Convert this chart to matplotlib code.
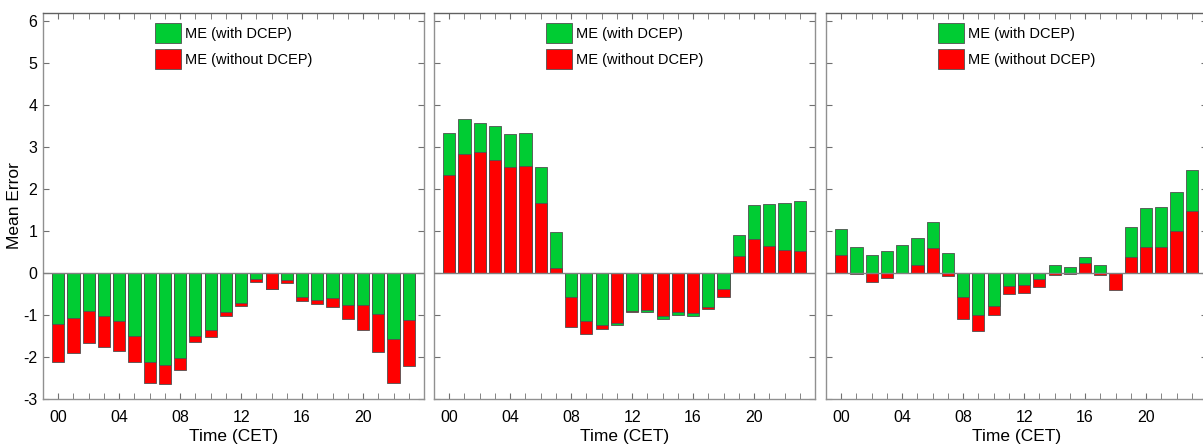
import numpy as np
import matplotlib
matplotlib.use('Agg')
import matplotlib.pyplot as plt
from matplotlib.patches import Patch
from matplotlib.ticker import MultipleLocator, FixedLocator

plt.rcParams['font.family'] = ['Liberation Sans', 'DejaVu Sans']
plt.rcParams['axes.unicode_minus'] = False

hours = np.arange(24)
hour_labels = ['00', '04', '08', '12', '16', '20']

# panel 1
me_with_1 = [-1.22, -1.08, -0.91, -1.02, -1.14, -1.50, -2.13, -2.20, -2.02, -1.50, -1.36, -0.94,
             -0.71, -0.15, -0.37, -0.17, -0.56, -0.64, -0.60, -0.77, -0.77, -0.98, -1.56, -1.13]
me_without_1 = [-2.13, -1.90, -1.66, -1.77, -1.85, -2.13, -2.63, -2.64, -2.31, -1.64, -1.53, -1.02,
                -0.79, -0.21, -0.37, -0.23, -0.66, -0.74, -0.80, -1.09, -1.36, -1.88, -2.61, -2.21]

# panel 2
me_with_2 = [3.34, 3.67, 3.58, 3.51, 3.30, 3.34, 2.53, 0.98, -0.58, -1.15, -1.25, -1.24,
             -0.91, -0.94, -1.09, -0.99, -1.02, -0.82, -0.37, 0.91, 1.63, 1.64, 1.67, 1.71]
me_without_2 = [2.33, 2.83, 2.87, 2.69, 2.53, 2.55, 1.66, 0.11, -1.28, -1.45, -1.33, -1.18,
                -0.92, -0.88, -1.02, -0.93, -0.96, -0.86, -0.56, 0.40, 0.82, 0.65, 0.55, 0.52]

# panel 3
me_with_3 = [1.05, 0.62, 0.44, 0.52, 0.66, 0.83, 1.21, 0.47, -0.58, -1.01, -0.79, -0.31,
             -0.28, -0.14, 0.19, 0.15, 0.37, 0.18, 0.00, 1.10, 1.54, 1.57, 1.94, 2.45]
me_without_3 = [0.42, -0.03, -0.21, -0.13, 0.00, 0.19, 0.59, -0.06, -1.10, -1.37, -1.01, -0.49,
                -0.48, -0.33, -0.05, -0.03, 0.23, -0.05, -0.40, 0.37, 0.63, 0.63, 0.99, 1.47]

panels = [(me_with_1, me_without_1), (me_with_2, me_without_2), (me_with_3, me_without_3)]

GREEN = '#00cc33'
RED = '#ff0000'
EDGE = '#505050'

W, H = 1203, 448
fig = plt.figure(figsize=(W / 100, H / 100), dpi=100)
lefts = [43, 434, 826]
ax_w, bot, top = 381, 399, 13

for i, (g, r) in enumerate(panels):
    ax = fig.add_axes([lefts[i] / W, (H - bot) / H, ax_w / W, (bot - top) / H])
    g = np.array(g)
    r = np.array(r)
    gb = ax.bar(hours, g, width=0.8, color=GREEN, edgecolor=EDGE, linewidth=0.6)
    rb = ax.bar(hours, r, width=0.8, color=RED, edgecolor=EDGE, linewidth=0.6)
    # smaller bar drawn on top
    for k in range(24):
        if abs(g[k]) < abs(r[k]):
            gb.patches[k].set_zorder(3)
            rb.patches[k].set_zorder(2)
        else:
            gb.patches[k].set_zorder(2)
            rb.patches[k].set_zorder(3)
    ax.axhline(0, color='#808080', linewidth=1.0, zorder=4)

    ax.set_xlim(-1, 24)
    ax.set_ylim(-3, 6.19)
    ax.xaxis.set_major_locator(FixedLocator([0, 4, 8, 12, 16, 20]))
    ax.set_xticklabels(hour_labels)
    ax.xaxis.set_minor_locator(MultipleLocator(1))
    ax.yaxis.set_major_locator(MultipleLocator(1))
    ax.tick_params(which='both', direction='in', top=True, right=True, length=4,
                   color='#707070', labelsize=11.5)
    ax.tick_params(axis='x', pad=8)
    ax.tick_params(axis='y', pad=4)
    if i == 0:
        ax.set_ylabel('Mean Error', fontsize=12.5)
        ax.yaxis.set_label_coords(-0.056, 0.5)
    else:
        ax.tick_params(axis='y', labelleft=False)
    ax.set_xlabel('Time (CET)', fontsize=12.5, labelpad=3)
    for s in ax.spines.values():
        s.set_color('#909090')
        s.set_linewidth(1.0)
    ax.spines['top'].set_color('#606060')

    handles = [Patch(facecolor=GREEN, edgecolor=EDGE, linewidth=0.6),
               Patch(facecolor=RED, edgecolor=EDGE, linewidth=0.6)]
    ax.legend(handles, ['ME (with DCEP)', 'ME (without DCEP)'], loc='upper center',
              frameon=False, fontsize=10.5, handlelength=1.8, handleheight=1.7,
              handletextpad=0.3, labelspacing=0.45, borderaxespad=0.3)

fig.savefig('out.png', dpi=100)
